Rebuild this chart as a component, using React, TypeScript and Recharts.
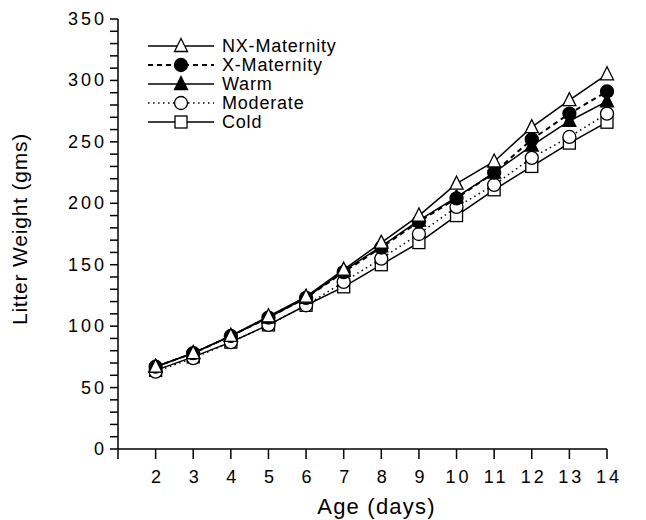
import React from "react";
import {
  LineChart,
  Line,
  XAxis,
  YAxis,
  Legend,
} from "recharts";

const days = [2, 3, 4, 5, 6, 7, 8, 9, 10, 11, 12, 13, 14];
const nxMaternity = [67, 78, 92, 108, 124, 146, 168, 190, 216, 234, 262, 284, 305];
const xMaternity = [67, 78, 92, 107, 123, 144, 164, 185, 204, 225, 252, 273, 291];
const warm = [67, 78, 92, 107, 123, 145, 165, 186, 205, 225, 247, 267, 283];
const moderate = [63, 74, 87, 101, 117, 136, 155, 175, 197, 215, 237, 254, 273];
const cold = [64, 75, 87, 101, 117, 132, 150, 168, 190, 211, 230, 249, 266];

const xTicks = [1, 2, 3, 4, 5, 6, 7, 8, 9, 10, 11, 12, 13, 14];
const yTicks = Array.from({ length: 36 }, (_, i) => i * 10);

const data = days.map((d, i) => ({
  day: d,
  nx: nxMaternity[i],
  x: xMaternity[i],
  warm: warm[i],
  moderate: moderate[i],
  cold: cold[i],
}));

const FONT = "'Liberation Sans', Arial, sans-serif";

type Shape = "openTriangle" | "filledCircle" | "filledTriangle" | "openCircle" | "openSquare";

const Marker = ({ cx, cy, shape }: { cx: number; cy: number; shape: Shape }) => {
  const s = 6.5;
  if (shape === "openTriangle" || shape === "filledTriangle") {
    const pts = `${cx},${cy - s - 1} ${cx - s},${cy + s - 1} ${cx + s},${cy + s - 1}`;
    return (
      <polygon
        points={pts}
        fill={shape === "filledTriangle" ? "#000" : "#fff"}
        stroke="#000"
        strokeWidth={1.3}
      />
    );
  }
  if (shape === "openSquare") {
    return (
      <rect x={cx - 6} y={cy - 6} width={12} height={12} fill="#fff" stroke="#000" strokeWidth={1.3} />
    );
  }
  return (
    <circle
      cx={cx}
      cy={cy}
      r={6.5}
      fill={shape === "filledCircle" ? "#000" : "#fff"}
      stroke="#000"
      strokeWidth={1.3}
    />
  );
};

const series = [
  { key: "nx", name: "NX-Maternity", shape: "openTriangle" as Shape, dash: undefined, width: 1.5 },
  { key: "x", name: "X-Maternity", shape: "filledCircle" as Shape, dash: "5 4", width: 2 },
  { key: "warm", name: "Warm", shape: "filledTriangle" as Shape, dash: undefined, width: 1.5 },
  { key: "moderate", name: "Moderate", shape: "openCircle" as Shape, dash: "1.5 3.5", width: 1.5 },
  { key: "cold", name: "Cold", shape: "openSquare" as Shape, dash: undefined, width: 1.5 },
];

const LegendBox = () => (
  <svg width={220} height={100}>
    {series.map((s, i) => {
      const y = 9 + i * 19;
      return (
        <g key={s.key}>
          <line x1={2} x2={68} y1={y} y2={y} stroke="#000" strokeWidth={s.width} strokeDasharray={s.dash} />
          <Marker cx={35} cy={y} shape={s.shape} />
          <text x={76} y={y + 6} fontSize={18} fontFamily={FONT} letterSpacing={0.8} fill="#000">
            {s.name}
          </text>
        </g>
      );
    })}
  </svg>
);

const XTick = (props: any) => {
  const { x, y, payload } = props;
  if (payload.value === 1) return null;
  return (
    <text x={x + 2} y={y + 22} textAnchor="middle" fontSize={18} fontFamily={FONT} letterSpacing={3} fill="#000">
      {payload.value}
    </text>
  );
};

const YTick = (props: any) => {
  const { x, y, payload } = props;
  if (payload.value % 50 !== 0) return null;
  return (
    <text x={x - 1} y={y + 6} textAnchor="end" fontSize={18} fontFamily={FONT} letterSpacing={3} fill="#000">
      {payload.value}
    </text>
  );
};

export default function App() {
  return (
    <div style={{ position: "absolute", left: 0, top: 0, width: 646, height: 520, background: "#fff" }}>
      <LineChart width={646} height={520} data={data} margin={{ top: 19, right: 39, bottom: 0, left: 0 }}>
        <XAxis
          dataKey="day"
          type="number"
          domain={[1, 14]}
          ticks={xTicks}
          tick={<XTick />}
          tickSize={10}
          stroke="#000"
          strokeWidth={1.5}
          height={71}
          label={{ value: "Age  (days)", position: "insideBottom", offset: 6, dx: 14, fontSize: 22, fontFamily: FONT, fill: "#000", letterSpacing: 1.2 }}
        />
        <YAxis
          type="number"
          domain={[0, 350]}
          ticks={yTicks}
          interval={0}
          tick={<YTick />}
          tickSize={8}
          stroke="#000"
          strokeWidth={1.5}
          width={118}
          label={{ value: "Litter Weight  (gms)", angle: -90, position: "insideLeft", offset: 20, dy: -5, fontSize: 21, fontFamily: FONT, fill: "#000", letterSpacing: 0.8, style: { textAnchor: "middle" } }}
        />
        <Legend
          layout="vertical"
          align="center"
          verticalAlign="middle"
          content={<LegendBox />}
          wrapperStyle={{ left: 146, top: 37, width: 220, height: 100 }}
        />
        {[...series].reverse().map((s) => (
          <Line
            key={s.key}
            dataKey={s.key}
            name={s.name}
            stroke="#000"
            strokeWidth={s.width}
            strokeDasharray={s.dash}
            isAnimationActive={false}
            dot={(p: any) => <Marker key={`${s.key}-${p.index}`} cx={p.cx} cy={p.cy} shape={s.shape} />}
            activeDot={false}
          />
        ))}
      </LineChart>
    </div>
  );
}
